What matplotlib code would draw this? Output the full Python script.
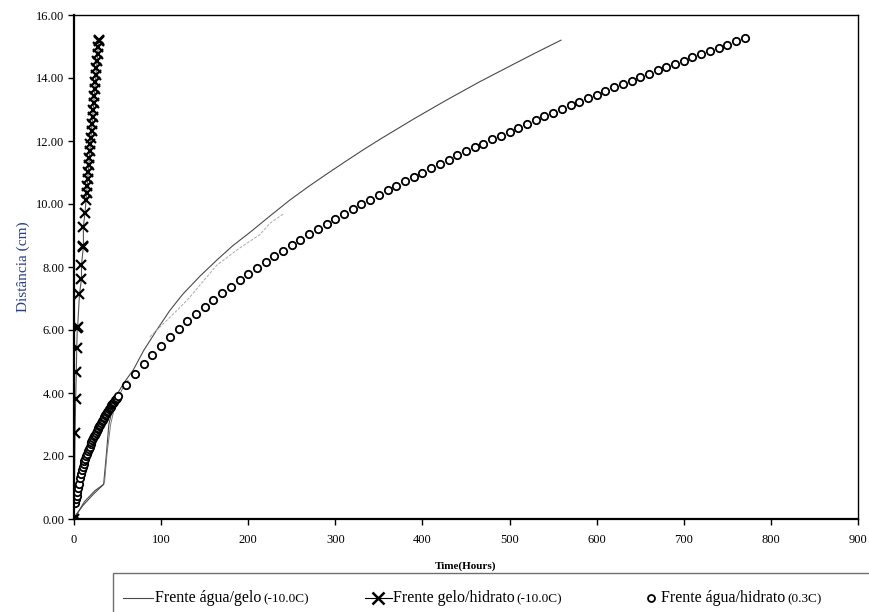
import matplotlib.pyplot as plt
from matplotlib.lines import Line2D
from matplotlib.patches import Rectangle

plt.rcParams['font.family'] = ['Liberation Serif', 'DejaVu Serif']

# Frente agua/gelo (-10.0C): main trace, return of the loop near the origin,
# a second parallel stretch and a faint branch
agua_gelo_t = [0, 12, 24, 34, 37, 40, 44, 49, 58, 68, 80, 95, 110, 125, 145, 164, 182, 202,
               225, 248, 270, 290, 310, 332, 351, 390, 427, 465, 504, 530, 559]
agua_gelo_d = [0.0, 0.55, 0.9, 1.1, 2.0, 3.0, 3.5, 3.94, 4.35, 4.73, 5.35, 6.0, 6.62, 7.14, 7.72,
               8.22, 8.67, 9.1, 9.62, 10.13, 10.57, 10.95, 11.32, 11.72, 12.05, 12.7, 13.29,
               13.87, 14.43, 14.8, 15.2]
loop_t = [34, 22, 10, 2, 0]
loop_d = [1.1, 0.78, 0.42, 0.12, 0.0]
branch_t = [35, 38, 42, 47, 55, 62]
branch_d = [1.15, 2.1, 3.0, 3.6, 4.1, 4.4]
faint_t = [87, 110, 130, 164, 190, 213, 225, 240]
faint_d = [5.78, 6.4, 6.95, 8.06, 8.6, 9.02, 9.39, 9.68]

# Frente gelo/hidrato (-10.0C)
gelo_hid_t = [0, 1.2, 1.9, 2.7, 3.1, 3.8, 4.2, 6.3, 8.6, 8.6, 10.7, 10.9, 10.7, 12.6,
              13.8, 14.4, 15.1, 15.7, 16.3, 17.0, 17.6, 18.2, 18.9, 19.5, 20.1, 20.8, 21.4,
              22.0, 22.7, 23.3, 23.9, 24.6, 25.2, 25.8, 26.5, 27.1, 27.7, 28.4, 28.6]
gelo_hid_d = [0.0, 2.73, 3.81, 4.68, 5.42, 6.05, 6.1, 7.14, 7.63, 8.07, 8.62, 8.66, 9.28, 9.7,
              10.13, 10.35, 10.57, 10.79, 11.01, 11.23, 11.45, 11.67, 11.89, 12.11, 12.33,
              12.55, 12.77, 12.99, 13.21, 13.43, 13.65, 13.87, 14.09, 14.31, 14.53, 14.75,
              14.97, 15.19, 15.22]

# Frente agua/hidrato (0.3C)
agua_hid_t = [0, 1, 2, 3, 4, 5, 6, 7, 8, 9, 10, 11, 12, 13, 14, 15, 16, 17, 18, 19, 20, 21, 22,
              23, 24, 25, 26, 27, 28, 29, 30, 31, 32, 33, 34, 35, 36, 37, 38, 39, 40, 41, 42,
              43, 44, 45, 46, 47, 48, 49,
              50, 60, 70, 80, 90, 100, 110, 120, 130, 140, 150, 160, 170, 180, 190, 200, 210,
              220, 230, 240, 250, 260, 270, 280, 290, 300, 310, 320, 330, 340, 350, 360, 370,
              380, 390, 400, 410, 420, 430, 440, 450, 460, 470, 480, 490, 500, 510, 520, 530,
              540, 550, 560, 570, 580, 590, 600, 610, 620, 630, 640, 650, 660, 670, 680, 690,
              700, 710, 720, 730, 740, 750, 760, 770]
agua_hid_d = [0.0, 0.52, 0.62, 0.74, 0.86, 0.98, 1.12, 1.30, 1.44, 1.56, 1.66, 1.75, 1.83, 1.91,
              1.99, 2.07, 2.15, 2.23, 2.30, 2.37, 2.44, 2.50, 2.56, 2.62, 2.68, 2.74, 2.79,
              2.85, 2.90, 2.95, 3.00, 3.05, 3.10, 3.15, 3.20, 3.25, 3.30, 3.34, 3.39, 3.43,
              3.48, 3.52, 3.56, 3.61, 3.65, 3.69, 3.73, 3.77, 3.81, 3.85,
              3.89, 4.26, 4.60, 4.92, 5.22, 5.50, 5.77, 6.02, 6.27, 6.51, 6.74, 6.96, 7.17,
              7.38, 7.58, 7.78, 7.97, 8.16, 8.34, 8.52, 8.70, 8.87, 9.04, 9.20, 9.37, 9.53,
              9.68, 9.84, 9.99, 10.14, 10.29, 10.44, 10.58, 10.72, 10.86, 11.00, 11.14, 11.27,
              11.40, 11.54, 11.67, 11.80, 11.92, 12.05, 12.17, 12.30, 12.42, 12.54, 12.66,
              12.78, 12.90, 13.02, 13.13, 13.25, 13.36, 13.47, 13.58, 13.70, 13.80, 13.91,
              14.02, 14.13, 14.24, 14.34, 14.45, 14.55, 14.66, 14.76, 14.86, 14.96, 15.06,
              15.16, 15.26]

x_ticks = [0, 100, 200, 300, 400, 500, 600, 700, 800, 900]
y_ticks = [0, 2, 4, 6, 8, 10, 12, 14, 16]

W, H = 869, 612
fig = plt.figure(figsize=(W / 100, H / 100), dpi=100)
ax = fig.add_axes([74 / W, 1 - 519 / H, (858 - 74) / W, (519 - 15) / H])

line_col = '#4a4a4a'
ax.plot(agua_gelo_t, agua_gelo_d, color=line_col, lw=0.8)
ax.plot(loop_t, loop_d, color=line_col, lw=0.8)
ax.plot(branch_t, branch_d, color='#777777', lw=0.7)
ax.plot(faint_t, faint_d, color='#a8a8a8', lw=0.7, ls=(0, (3, 1.5)))
ax.plot(agua_hid_t, agua_hid_d, ls='none', marker='o', ms=5.3, mfc='white', mec='black', mew=1.3)
ax.plot(gelo_hid_t, gelo_hid_d, color='#555555', lw=0.8, marker='x', ms=7,
        mec='black', mew=1.6)

ax.set_xlim(0, 900)
ax.set_ylim(0, 16)
ax.set_xticks(x_ticks)
ax.set_yticks(y_ticks)
ax.set_yticklabels(['%.2f' % v for v in y_ticks])
ax.tick_params(direction='out', length=4, width=1, labelsize=9)
ax.tick_params(axis='x', pad=7)
ax.tick_params(axis='y', pad=3)
for s in ['left', 'bottom']:
    ax.spines[s].set_linewidth(1.6)
for s in ['top', 'right']:
    ax.spines[s].set_linewidth(1.0)

ax.set_ylabel('Distância (cm)', color='#26408b', fontsize=11, labelpad=4)
ax.set_xlabel('Time(Hours)', fontsize=8, fontweight='bold', labelpad=11)

# legend box (runs off the figure edge like the original)
fig.add_artist(Rectangle((113 / W, -0.1), 1.0, 0.1 + 1 - 573 / H, transform=fig.transFigure,
                         fill=False, ec='#6f6f6f', lw=1.0))
ly = 1 - 598 / H
fig.add_artist(Line2D([123 / W, 153 / W], [ly, ly], transform=fig.transFigure,
                      color=line_col, lw=0.8))
fig.add_artist(Line2D([365 / W, 392 / W], [ly, ly], transform=fig.transFigure,
                      color='black', lw=0.8))
fig.add_artist(Line2D([378 / W], [ly], transform=fig.transFigure, ls='none',
                      marker='x', ms=8, mec='black', mew=1.8))
fig.add_artist(Line2D([651 / W], [ly], transform=fig.transFigure, ls='none',
                      marker='o', ms=5, mfc='white', mec='black', mew=1.3))

entries = [(155, 'Frente água/gelo', '(-10.0C)'),
           (393, 'Frente gelo/hidrato', '(-10.0C)'),
           (661, 'Frente água/hidrato', '(0.3C)')]
texts = []
for x0, main, small in entries:
    t = fig.text(x0 / W, ly, main, fontsize=11.5, va='center', ha='left')
    texts.append((t, small))

fig.canvas.draw()
r = fig.canvas.get_renderer()
for t, small in texts:
    bb = t.get_window_extent(r)
    fig.text(bb.x1 / W + 2 / W, ly - 1 / H, small, fontsize=9.5, va='center', ha='left')

fig.savefig('out.png', dpi=100)
